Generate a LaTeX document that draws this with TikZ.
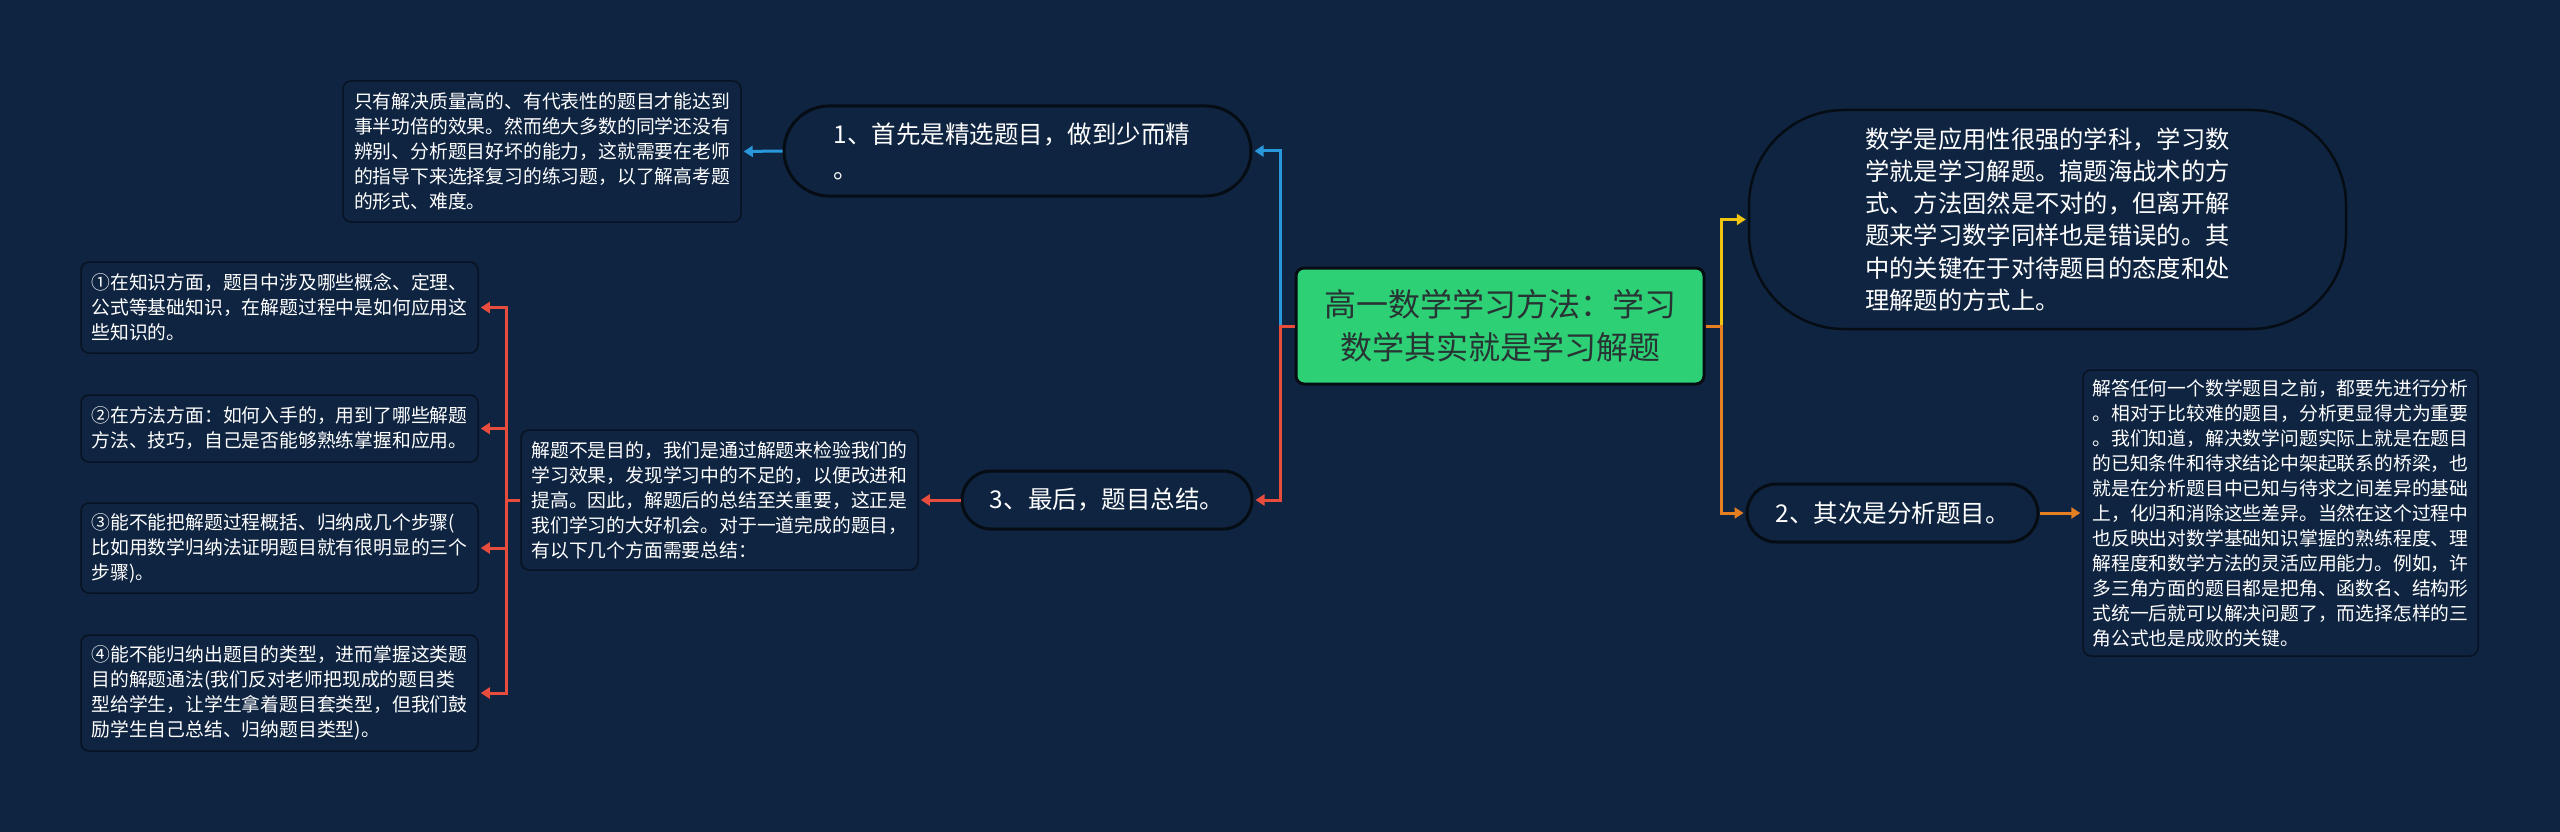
\documentclass[tikz,border=0pt]{standalone}
\usepackage{fontspec}
\newfontfamily\cjk{Noto Sans CJK SC}
\usetikzlibrary{arrows.meta,shapes.misc}
\definecolor{bg}{RGB}{15,36,64}
\definecolor{cblue}{RGB}{41,152,219}
\definecolor{cyellow}{RGB}{241,196,15}
\definecolor{corange}{RGB}{230,126,34}
\definecolor{cred}{RGB}{231,76,60}
\definecolor{cgreen}{RGB}{46,208,118}
\definecolor{roottext}{RGB}{40,52,52}
\definecolor{pillline}{RGB}{6,12,20}
\definecolor{boxline}{RGB}{7,18,34}
\begin{document}
\begin{tikzpicture}[x=1pt,y=-1pt,
  conn/.style={line width=3pt,-{Triangle[length=9pt,width=11pt]},shorten >=2pt},
  box/.style={draw=boxline,line width=1.5pt,fill=bg,rounded corners=8pt,text=white,
    font={\cjk\fontsize{18.8}{25}\selectfont},align=left,inner sep=0pt},
  pill/.style={rounded rectangle,draw=pillline,line width=3pt,fill=bg,text=white,
    font={\cjk\fontsize{24.5}{35}\selectfont},align=left,inner sep=0pt},
  rootbox/.style={draw=pillline,line width=3pt,fill=cgreen,rounded corners=8pt,text=roottext,
    font={\cjk\fontsize{32}{43}\selectfont},align=center,inner sep=0pt},
  bigpill/.style={draw=pillline,line width=2.5pt,fill=bg,rounded corners=95pt,text=white,
    font={\cjk\fontsize{24.3}{32.3}\selectfont},align=left,inner sep=0pt}
]
\fill[bg] (0,0) rectangle (2560,832);

% root
\node[rootbox,minimum width=408pt,minimum height=116pt] (root) at (1500,326)
  {高一数学学习方法：学习\\数学其实就是学习解题};

% right side
\node[bigpill,minimum width=597pt,minimum height=219pt] (p0) at (2047.5,219.5)
  {数学是应用性很强的学科，学习数\\学就是学习解题。搞题海战术的方\\式、方法固然是不对的，但离开解\\题来学习数学同样也是错误的。其\\中的关键在于对待题目的态度和处\\理解题的方式上。};

\node[pill,minimum width=291pt,minimum height=58pt] (n2) at (1892.5,513)
  {2、其次是分析题目。};

\node[box,minimum width=395pt,minimum height=286pt] (b2) at (2280.5,513)
  {解答任何一个数学题目之前，都要先进行分析\\。相对于比较难的题目，分析更显得尤为重要\\。我们知道，解决数学问题实际上就是在题目\\的已知条件和待求结论中架起联系的桥梁，也\\就是在分析题目中已知与待求之间差异的基础\\上，化归和消除这些差异。当然在这个过程中\\也反映出对数学基础知识掌握的熟练程度、理\\解程度和数学方法的灵活应用能力。例如，许\\多三角方面的题目都是把角、函数名、结构形\\式统一后就可以解决问题了，而选择怎样的三\\角公式也是成败的关键。};

% left side
\node[pill,minimum width=467pt,minimum height=90pt,text width=368pt] (n1) at (1017.5,151)
  {1、首先是精选题目，做到少而精\\。};

\node[box,minimum width=398pt,minimum height=141pt] (b1) at (542,151.5)
  {只有解决质量高的、有代表性的题目才能达到\\事半功倍的效果。然而绝大多数的同学还没有\\辨别、分析题目好坏的能力，这就需要在老师\\的指导下来选择复习的练习题，以了解高考题\\的形式、难度。};

\node[pill,minimum width=290pt,minimum height=58pt] (n3) at (1107,500)
  {3、最后，题目总结。};

\node[box,minimum width=397pt,minimum height=140pt] (b3) at (719.5,500)
  {解题不是目的，我们是通过解题来检验我们的\\学习效果，发现学习中的不足的，以便改进和\\提高。因此，解题后的总结至关重要，这正是\\我们学习的大好机会。对于一道完成的题目，\\有以下几个方面需要总结：};

\node[box,minimum width=397pt,minimum height=91pt] (ba) at (279.5,307.5)
  {①在知识方面，题目中涉及哪些概念、定理、\\公式等基础知识，在解题过程中是如何应用这\\些知识的。};
\node[box,minimum width=397pt,minimum height=67pt] (bb) at (279.5,428.5)
  {②在方法方面：如何入手的，用到了哪些解题\\方法、技巧，自己是否能够熟练掌握和应用。};
\node[box,minimum width=397pt,minimum height=90pt] (bc) at (279.5,548)
  {③能不能把解题过程概括、归纳成几个步骤(\\比如用数学归纳法证明题目就有很明显的三个\\步骤)。};
\node[box,minimum width=397pt,minimum height=116pt] (bd) at (279.5,693)
  {④能不能归纳出题目的类型，进而掌握这类题\\目的解题通法(我们反对老师把现成的题目类\\型给学生，让学生拿着题目套类型，但我们鼓\\励学生自己总结、归纳题目类型)。};

% connectors
\coordinate (jl) at (1280,326);
\coordinate (jr) at (1721,326);
\coordinate (jb) at (506,500);

\draw[conn,cblue] (root.west) -- (jl) |- (n1.east);
\draw[conn,cred] (root.west) -- (jl) |- (n3.east);
\draw[conn,cyellow] (root.east) -- (jr) |- (p0.west);
\draw[conn,corange] (root.east) -- (jr) |- (n2.west);

\draw[conn,cblue] (n1.west) -- (b1.east);
\draw[conn,corange] (n2.east) -- (b2.west);
\draw[conn,cred] (n3.west) -- (b3.east);

\draw[conn,cred] (b3.west) -- (jb) |- (ba.east);
\draw[conn,cred] (b3.west) -- (jb) |- (bb.east);
\draw[conn,cred] (b3.west) -- (jb) |- (bc.east);
\draw[conn,cred] (b3.west) -- (jb) |- (bd.east);
\end{tikzpicture}
\end{document}
